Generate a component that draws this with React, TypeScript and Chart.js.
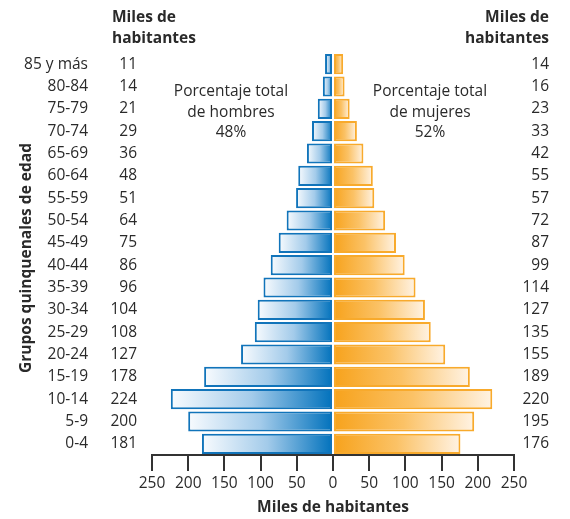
import React, { useEffect, useRef } from "react";
import { Chart, registerables } from "chart.js";

Chart.register(...registerables);

const ageGroups = ["85 y más", "80-84", "75-79", "70-74", "65-69", "60-64", "55-59", "50-54", "45-49", "40-44", "35-39", "30-34", "25-29", "20-24", "15-19", "10-14", "5-9", "0-4"];
const males = [11, 14, 21, 29, 36, 48, 51, 64, 75, 86, 96, 104, 108, 127, 178, 224, 200, 181];
const females = [14, 16, 23, 33, 42, 55, 57, 72, 87, 99, 114, 127, 135, 155, 189, 220, 195, 176];
const headerLines = ["Miles de", "habitantes"];
const maleNote = ["Porcentaje total", "de hombres", "48%"];
const femaleNote = ["Porcentaje total", "de mujeres", "52%"];
const xTitle = "Miles de habitantes";
const yTitle = "Grupos quinquenales de edad";

const FONT = "'Open Sans', sans-serif";
const TEXT = "#2a2a2a";
const BLUE = "#0071bc";
const BLUE_BORDER = "#1174ba";
const ORANGE = "#f7a21b";
const ORANGE_BORDER = "#f8aa2c";

export default function App() {
  const ref = useRef<HTMLCanvasElement | null>(null);

  useEffect(() => {
    document.body.style.margin = "0";
    const canvas = ref.current!;
    const textPlugin = {
      id: "texts",
      afterDraw(chart: any) {
        const ctx = chart.ctx as CanvasRenderingContext2D;
        const ys = chart.scales.y;
        ctx.save();
        ctx.fillStyle = TEXT;
        ctx.textBaseline = "middle";
        ctx.font = `15.5px ${FONT}`;
        ctx.textAlign = "right";
        ageGroups.forEach((a, i) => {
          const y = ys.getPixelForValue(i);
          ctx.fillText(a, 88, y);
          ctx.fillText(String(males[i]), 137, y);
          ctx.fillText(String(females[i]), 549, y);
        });
        ctx.font = `bold 15.5px ${FONT}`;
        headerLines.forEach((t, i) => {
          ctx.textAlign = "left";
          ctx.fillText(t, 112, 18 + i * 20.5);
          ctx.textAlign = "right";
          ctx.fillText(t, 549, 18 + i * 20.5);
        });
        ctx.font = `15.5px ${FONT}`;
        ctx.textAlign = "center";
        maleNote.forEach((t, i) => ctx.fillText(t, 231, 92 + i * 20.5));
        femaleNote.forEach((t, i) => ctx.fillText(t, 430, 92 + i * 20.5));
        ctx.font = `bold 15.5px ${FONT}`;
        ctx.fillText(xTitle, 333, 508);
        ctx.translate(27, 258);
        ctx.rotate(-Math.PI / 2);
        ctx.fillText(yTitle, 0, 0);
        ctx.restore();
      },
    };

    const chart = new Chart(canvas, {
      type: "bar",
      data: {
        labels: ageGroups,
        datasets: [
          {
            label: "Hombres",
            data: males.map((v) => -v),
            borderColor: BLUE_BORDER,
            borderWidth: 2,
            borderSkipped: false,
            backgroundColor: (c: any) => {
              const chart = c.chart;
              if (!chart.chartArea || c.type !== "data") return BLUE;
              const xs = chart.scales.x;
              const x0 = xs.getPixelForValue(c.raw);
              const x1 = xs.getPixelForValue(0);
              const g = chart.ctx.createLinearGradient(x0, 0, x1, 0);
              g.addColorStop(0, "#f8fbfe");
              g.addColorStop(0.5, "#a3cbea");
              g.addColorStop(1, BLUE);
              return g;
            },
          },
          {
            label: "Mujeres",
            data: females,
            borderColor: ORANGE_BORDER,
            borderWidth: 2,
            borderSkipped: false,
            backgroundColor: (c: any) => {
              const chart = c.chart;
              if (!chart.chartArea || c.type !== "data") return ORANGE;
              const xs = chart.scales.x;
              const x0 = xs.getPixelForValue(0);
              const x1 = xs.getPixelForValue(c.raw);
              const g = chart.ctx.createLinearGradient(x0, 0, x1, 0);
              g.addColorStop(0, ORANGE);
              g.addColorStop(0.5, "#fbc266");
              g.addColorStop(1, "#fff3e4");
              return g;
            },
          },
        ],
      },
      options: {
        indexAxis: "y",
        responsive: false,
        animation: false,
        layout: { autoPadding: false, padding: { top: 53, right: 56, left: 152, bottom: 0 } },
        datasets: { bar: { barPercentage: 0.9, categoryPercentage: 1 } },
        plugins: { legend: { display: false }, tooltip: { enabled: false }, title: { display: false } },
        scales: {
          y: {
            display: false,
            stacked: true,
          },
          x: {
            stacked: true,
            min: -250,
            max: 250,
            afterFit: (s: any) => { s.height = 64; },
            afterBuildTicks: (s: any) => {
              const t = [];
              for (let v = -250; v <= 250; v += 50) t.push({ value: v });
              s.ticks = t;
            },
            grid: { drawOnChartArea: false, tickLength: 16, color: "#333", lineWidth: 2 },
            border: { display: true, color: "#333", width: 2 },
            ticks: {
              color: TEXT,
              padding: 3,
              maxRotation: 0,
              autoSkip: false,
              font: { family: FONT, size: 15.5 },
              callback: (v: any) => String(Math.abs(Number(v))),
            },
          },
        },
      },
      plugins: [textPlugin],
    });
    return () => chart.destroy();
  }, []);

  return <canvas ref={ref} width={570} height={519} style={{ display: "block", width: 570, height: 519 }} />;
}
